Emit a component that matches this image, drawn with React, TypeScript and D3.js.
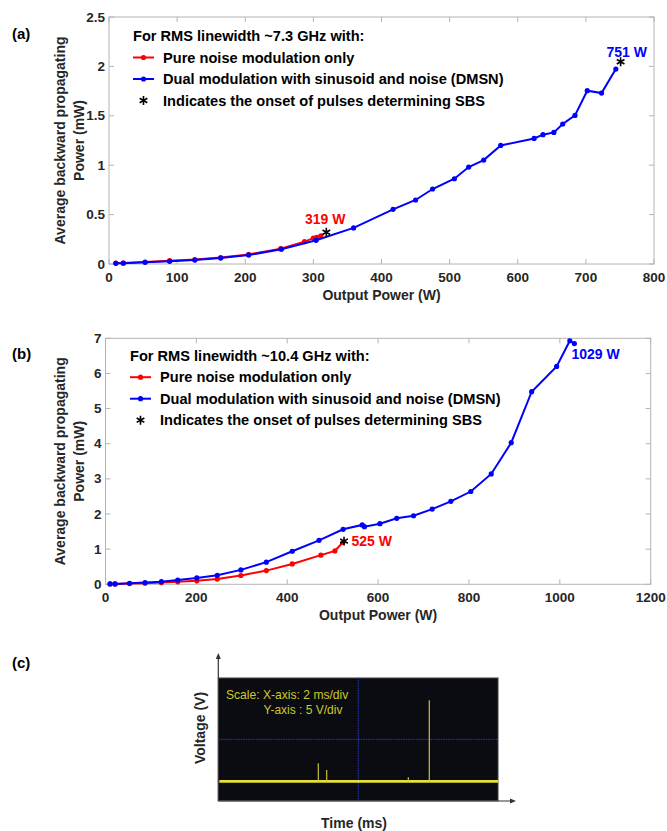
import React from "react";
import * as d3 from "d3";

// ---------- Panel (a): RMS linewidth ~7.3 GHz ----------
const aRedX = [10, 21, 53, 89, 126, 164, 205, 252, 287, 300, 305, 311];
const aRedY = [0.01, 0.01, 0.02, 0.034, 0.045, 0.065, 0.097, 0.155, 0.226, 0.262, 0.27, 0.285];
const aBlueX = [10, 21, 53, 89, 126, 164, 205, 253, 304, 359, 417, 450, 475, 507, 528, 550, 575, 624, 637, 653, 666, 684, 702, 723, 744];
const aBlueY = [0.007, 0.008, 0.017, 0.027, 0.04, 0.06, 0.09, 0.15, 0.24, 0.365, 0.553, 0.648, 0.759, 0.863, 0.981, 1.052, 1.2, 1.271, 1.309, 1.332, 1.417, 1.504, 1.754, 1.73, 1.973];
const aStarX = [319, 751];
const aStarY = [0.321, 2.047];
const aXTicks = [0, 100, 200, 300, 400, 500, 600, 700, 800];
const aYTicks = [0, 0.5, 1, 1.5, 2, 2.5];

// ---------- Panel (b): RMS linewidth ~10.4 GHz ----------
const bRedX = [10, 21, 53, 87, 123, 159, 201, 246, 298, 354, 411, 474, 505, 522];
const bRedY = [0.01, 0.01, 0.02, 0.03, 0.05, 0.07, 0.1, 0.15, 0.25, 0.39, 0.58, 0.83, 0.95, 1.19];
const bBlueX = [10, 21, 53, 87, 123, 159, 201, 246, 298, 354, 411, 470, 523, 565, 570, 604, 641, 678, 719, 760, 804, 849, 893, 938, 993, 1022, 1032];
const bBlueY = [0.01, 0.01, 0.03, 0.05, 0.076, 0.12, 0.18, 0.256, 0.41, 0.63, 0.94, 1.25, 1.565, 1.69, 1.64, 1.725, 1.877, 1.95, 2.14, 2.36, 2.64, 3.14, 4.03, 5.48, 6.2, 6.93, 6.85];
const bStarX = [525];
const bStarY = [1.23];
const bXTicks = [0, 200, 400, 600, 800, 1000, 1200];
const bYTicks = [0, 1, 2, 3, 4, 5, 6, 7];

// ---------- Panel (c): oscilloscope trace ----------
const scopeSpikeT = [-2.0, -1.58, 2.5, 3.55]; // ms
const scopeSpikeV = [-5.85, -7.5, -9.3, 9.6]; // V
const scopeBaseV = -10.3;

const TXT = "#262626";
const AX = "#b4b4b4";
const FONT = "Liberation Sans, Arial, sans-serif";

type PanelProps = {
  left: number; right: number; top: number; bottom: number;
  xMax: number; yMax: number;
  xTicks: number[]; yTicks: number[];
  redX: number[]; redY: number[]; blueX: number[]; blueY: number[];
  starX: number[]; starY: number[];
  title: string;
  legX: number; legY: number;
  labels: { text: string; x: number; y: number; color: string }[];
  tag: string; tagY: number;
};

function Panel(p: PanelProps) {
  const x = d3.scaleLinear().domain([0, p.xMax]).range([p.left, p.right]);
  const y = d3.scaleLinear().domain([0, p.yMax]).range([p.bottom, p.top]);
  const line = d3.line<[number, number]>().x(d => x(d[0])).y(d => y(d[1]));
  const red = p.redX.map((v, i) => [v, p.redY[i]] as [number, number]);
  const blue = p.blueX.map((v, i) => [v, p.blueY[i]] as [number, number]);
  const star = d3.symbol(d3.symbolAsterisk, 55)()!;
  const tl = 5;
  const yc = (p.top + p.bottom) / 2;
  const xc = (p.left + p.right) / 2;
  const rows = [p.legY, p.legY + 21.5, p.legY + 43, p.legY + 64.5];
  const LF = 14.6;
  return (
    <g fontFamily={FONT} fontWeight="bold">
      <text x={12} y={p.tagY} fontSize={15} fill="#000" dominantBaseline="central">{p.tag}</text>
      <rect x={p.left} y={p.top} width={p.right - p.left} height={p.bottom - p.top} fill="#fff" stroke={AX} strokeWidth={1} />
      {p.xTicks.map(t => (
        <g key={"x" + t}>
          <line x1={x(t)} x2={x(t)} y1={p.bottom} y2={p.bottom - tl} stroke={AX} />
          <line x1={x(t)} x2={x(t)} y1={p.top} y2={p.top + tl} stroke={AX} />
          <text x={x(t)} y={p.bottom + 13.5} fontSize={13.5} fill={TXT} textAnchor="middle" dominantBaseline="central">{t}</text>
        </g>
      ))}
      {p.yTicks.map(t => (
        <g key={"y" + t}>
          <line x1={p.left} x2={p.left + tl} y1={y(t)} y2={y(t)} stroke={AX} />
          <line x1={p.right} x2={p.right - tl} y1={y(t)} y2={y(t)} stroke={AX} />
          <text x={p.left - 4} y={y(t)} fontSize={13.5} fill={TXT} textAnchor="end" dominantBaseline="central">{t}</text>
        </g>
      ))}
      <text x={xc} y={p.bottom + 31} fontSize={14} fill={TXT} textAnchor="middle" dominantBaseline="central">Output Power (W)</text>
      <g transform={`translate(60,${yc}) rotate(-90)`}>
        <text x={0} y={0} fontSize={14} fill={TXT} textAnchor="middle" dominantBaseline="central">Average backward propagating</text>
      </g>
      <g transform={`translate(79,${yc}) rotate(-90)`}>
        <text x={0} y={0} fontSize={14} fill={TXT} textAnchor="middle" dominantBaseline="central">Power (mW)</text>
      </g>
      <path d={line(red)!} fill="none" stroke="#ff0000" strokeWidth={2} />
      {red.map((d, i) => <circle key={"r" + i} cx={x(d[0])} cy={y(d[1])} r={2.6} fill="#ff0000" />)}
      <path d={line(blue)!} fill="none" stroke="#0000ff" strokeWidth={2} />
      {blue.map((d, i) => <circle key={"b" + i} cx={x(d[0])} cy={y(d[1])} r={2.6} fill="#0000ff" />)}
      {p.starX.map((v, i) => (
        <path key={"s" + i} d={star} transform={`translate(${x(v)},${y(p.starY[i])})`} fill="none" stroke="#000" strokeWidth={1.6} />
      ))}
      {p.labels.map((l, i) => (
        <text key={"l" + i} x={l.x} y={l.y} fontSize={14} fill={l.color} dominantBaseline="central">{l.text}</text>
      ))}
      {/* legend */}
      <text x={p.legX} y={rows[0]} fontSize={LF} fill="#000" dominantBaseline="central">{p.title}</text>
      <line x1={p.legX} x2={p.legX + 21} y1={rows[1]} y2={rows[1]} stroke="#ff0000" strokeWidth={2} />
      <circle cx={p.legX + 10.5} cy={rows[1]} r={2.6} fill="#ff0000" />
      <text x={p.legX + 30} y={rows[1]} fontSize={LF} fill="#000" dominantBaseline="central">Pure noise modulation only</text>
      <line x1={p.legX} x2={p.legX + 21} y1={rows[2]} y2={rows[2]} stroke="#0000ff" strokeWidth={2} />
      <circle cx={p.legX + 10.5} cy={rows[2]} r={2.6} fill="#0000ff" />
      <text x={p.legX + 30} y={rows[2]} fontSize={LF} fill="#000" dominantBaseline="central">Dual modulation with sinusoid and noise (DMSN)</text>
      <path d={star} transform={`translate(${p.legX + 10.5},${rows[3]})`} fill="none" stroke="#000" strokeWidth={1.6} />
      <text x={p.legX + 30} y={rows[3]} fontSize={LF} fill="#000" dominantBaseline="central">Indicates the onset of pulses determining SBS</text>
    </g>
  );
}

function Scope() {
  const L = 218.3, R = 498.3, T = 677.7, B = 801;
  const x = d3.scaleLinear().domain([-7, 7]).range([L, R]);
  const y = d3.scaleLinear().domain([-15, 15]).range([B - 0.5, T + 0.5]);
  const y0 = y(scopeBaseV);
  return (
    <g fontFamily={FONT}>
      <text x={12} y={662} fontSize={15} fontWeight="bold" fill="#000" dominantBaseline="central">(c)</text>
      <rect x={L} y={T} width={R - L} height={B - T} fill="#0b0c11" stroke="#9a9a9a" strokeWidth={1} />
      <line x1={L} x2={R} y1={y(0)} y2={y(0)} stroke="#2a3cc0" strokeWidth={1} strokeDasharray="1.5,1" />
      <line x1={x(0)} x2={x(0)} y1={T} y2={B} stroke="#2a3cc0" strokeWidth={1} strokeDasharray="1.5,1" />
      <line x1={L + 1} x2={R} y1={y0} y2={y0} stroke="#e6e03a" strokeWidth={2.8} />
      {scopeSpikeT.map((t, i) => (
        <line key={i} x1={x(t)} x2={x(t)} y1={y0} y2={y(scopeSpikeV[i])} stroke="#c9c23a" strokeWidth={1.2} />
      ))}
      <text x={226} y={695} fontSize={12.1} fill="#cfc82a" dominantBaseline="central">Scale: X-axis: 2 ms/div</text>
      <text x={263.5} y={710} fontSize={12} fill="#cfc82a" dominantBaseline="central">Y-axis : 5 V/div</text>
      {/* axes arrows */}
      <line x1={L} x2={L} y1={B} y2={656} stroke="#333" strokeWidth={1.2} />
      <path d={`M${L - 2.5},${659} L${L},${653} L${L + 2.5},${659} Z`} fill="#333" />
      <line x1={L} x2={513} y1={B} y2={B} stroke="#333" strokeWidth={1.2} />
      <path d={`M${510},${B - 2.5} L${516},${B} L${510},${B + 2.5} Z`} fill="#333" />
      <g transform={`translate(200,${728}) rotate(-90)`}>
        <text x={0} y={0} fontSize={14} fontWeight="bold" fill={TXT} textAnchor="middle" dominantBaseline="central">Voltage (V)</text>
      </g>
      <text x={354} y={823} fontSize={14} fontWeight="bold" fill={TXT} textAnchor="middle" dominantBaseline="central">Time (ms)</text>
    </g>
  );
}

export default function App() {
  return (
    <svg width={667} height={831} style={{ display: "block", position: "absolute", left: 0, top: 0 }}>
      <Panel
        left={109} right={654} top={17} bottom={264}
        xMax={800} yMax={2.5} xTicks={aXTicks} yTicks={aYTicks}
        redX={aRedX} redY={aRedY} blueX={aBlueX} blueY={aBlueY}
        starX={aStarX} starY={aStarY}
        title="For RMS linewidth ~7.3 GHz with:" legX={133} legY={36}
        labels={[
          { text: "319 W", x: 305, y: 218.5, color: "#ff0000" },
          { text: "751 W", x: 606.5, y: 51.5, color: "#0000ff" },
        ]}
        tag="(a)" tagY={33}
      />
      <Panel
        left={105.5} right={650.7} top={338.3} bottom={584.3}
        xMax={1200} yMax={7} xTicks={bXTicks} yTicks={bYTicks}
        redX={bRedX} redY={bRedY} blueX={bBlueX} blueY={bBlueY}
        starX={bStarX} starY={bStarY}
        title="For RMS linewidth ~10.4 GHz with:" legX={130} legY={355.7}
        labels={[
          { text: "525 W", x: 351.5, y: 541, color: "#ff0000" },
          { text: "1029 W", x: 571.5, y: 353.5, color: "#0000ff" },
        ]}
        tag="(b)" tagY={353}
      />
      <Scope />
    </svg>
  );
}
